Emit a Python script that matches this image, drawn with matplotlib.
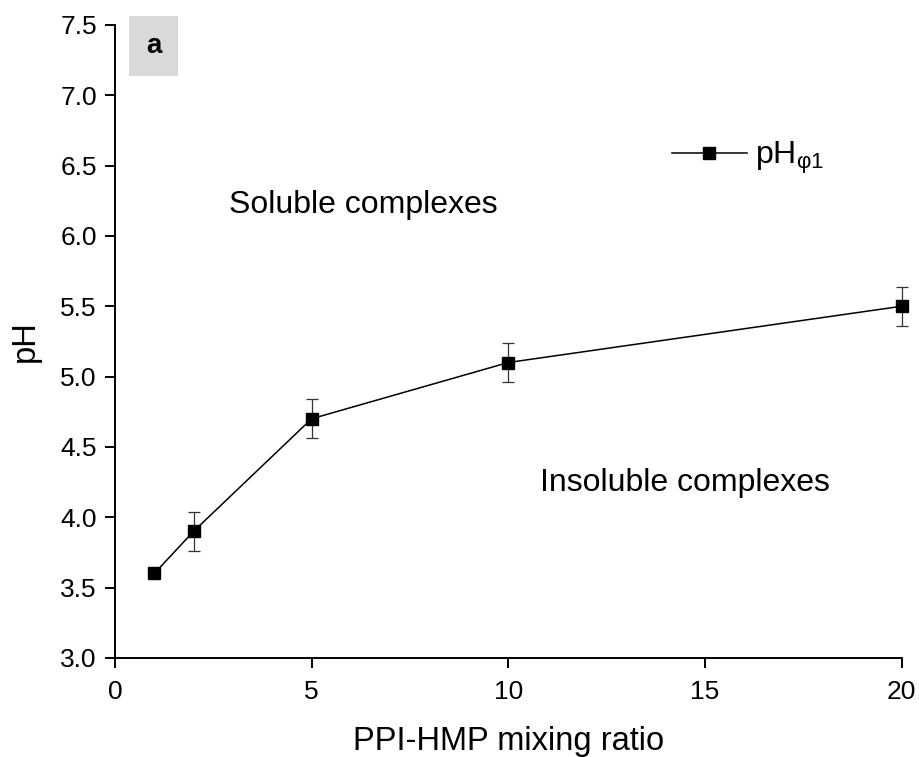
import matplotlib.pyplot as plt
from matplotlib.lines import Line2D

plt.rcParams['font.family'] = ['Liberation Sans', 'DejaVu Sans']
plt.rcParams['mathtext.fontset'] = 'custom'
plt.rcParams['mathtext.rm'] = 'Liberation Sans'
plt.rcParams['mathtext.it'] = 'Liberation Sans:italic'

# data
ratio = [1, 2, 5, 10, 20]
ph = [3.6, 3.9, 4.7, 5.1, 5.5]
ph_err = [0.0, 0.14, 0.14, 0.14, 0.14]

fig = plt.figure(figsize=(9.2, 7.57), dpi=100)
ax = fig.add_axes([0.125, 0.131, 0.855, 0.836])

ax.errorbar(ratio, ph, yerr=ph_err, fmt='none', ecolor='#333333',
            elinewidth=0.9, capsize=4.5, capthick=0.9, clip_on=False)
ax.plot(ratio, ph, color='black', marker='s', ms=9, lw=1.1, clip_on=False)

ax.set_xlim(0, 20)
ax.set_ylim(3.0, 7.5)
ax.set_xticks([0, 5, 10, 15, 20])
ax.set_yticks([3.0, 3.5, 4.0, 4.5, 5.0, 5.5, 6.0, 6.5, 7.0, 7.5])
ax.set_yticklabels([f'{v:.1f}' for v in ax.get_yticks()])

for s in ['top', 'right']:
    ax.spines[s].set_visible(False)
for s in ['left', 'bottom']:
    ax.spines[s].set_linewidth(1.4)
ax.tick_params(direction='out', length=7, width=1.4, labelsize=19)
ax.tick_params(axis='y', pad=6)
ax.tick_params(axis='x', pad=9)

ax.set_xlabel('PPI-HMP mixing ratio', fontsize=23.5, labelpad=16)
ax.set_ylabel('pH', fontsize=23.5, labelpad=14)

ax.text(0.316, 0.715, 'Soluble complexes', transform=ax.transAxes,
        fontsize=23, ha='center', va='center')
ax.text(0.724, 0.277, 'Insoluble complexes', transform=ax.transAxes,
        fontsize=23, ha='center', va='center')

# panel tag
ax.text(0.049, 0.967, 'a', transform=ax.transAxes, fontsize=20,
        fontweight='bold', ha='center', va='center',
        bbox=dict(boxstyle='square,pad=0.6', fc='#d9d9d9', ec='none'))

handle = Line2D([], [], color='black', marker='s', ms=9, lw=1.1)
ax.legend([handle], [r'pH$_{\mathregular{φ1}}$'], loc='center left',
          bbox_to_anchor=(0.708, 0.79), frameon=False, fontsize=23,
          handlelength=2.35, handletextpad=0.25, borderpad=0,
          borderaxespad=0, numpoints=1)

fig.savefig('out.png', dpi=100)
